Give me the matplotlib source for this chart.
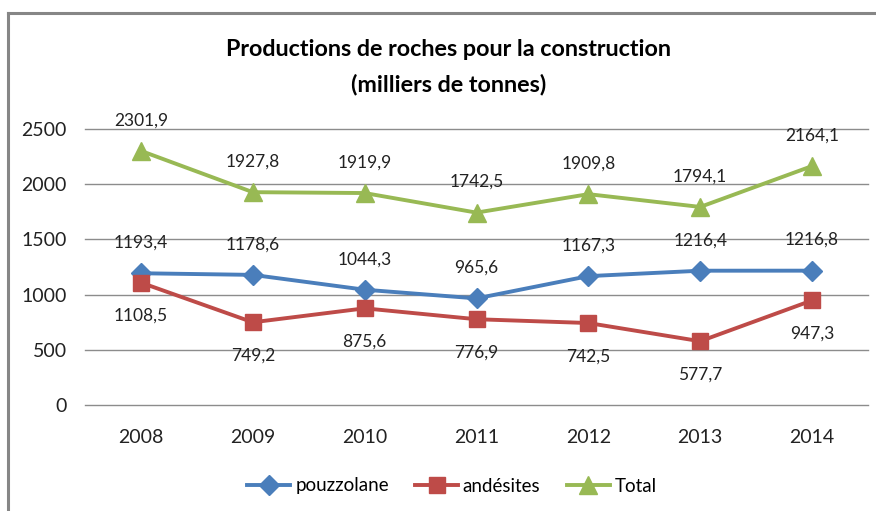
import matplotlib
matplotlib.use('Agg')
import matplotlib.pyplot as plt
from matplotlib.lines import Line2D

plt.rcParams['font.family'] = ['Lato', 'DejaVu Sans']

years = ['2008', '2009', '2010', '2011', '2012', '2013', '2014']
pouzzolane = [1193.4, 1178.6, 1044.3, 965.6, 1167.3, 1216.4, 1216.8]
andesites = [1108.5, 749.2, 875.6, 776.9, 742.5, 577.7, 947.3]
total = [2301.9, 1927.8, 1919.9, 1742.5, 1909.8, 1794.1, 2164.1]
yticks = [0, 500, 1000, 1500, 2000, 2500]

fig = plt.figure(figsize=(8.76, 5.11), dpi=100)
ax = fig.add_axes([85 / 876, 1 - 405 / 511, (868 - 85) / 876, (405 - 129) / 511])

x = list(range(len(years)))
series = [
    ('pouzzolane', pouzzolane, '#4a7ebb', 'D', 10, 22),
    ('andésites', andesites, '#be4b48', 's', 11, -24),
    ('Total', total, '#98b954', '^', 13, 22),
]
for name, vals, col, mk, ms, dy in series:
    ax.plot(x, vals, color=col, lw=2.8, marker=mk, markersize=ms, label=name, zorder=3)
    for xi, v in zip(x, vals):
        ax.annotate(f"{v:.1f}".replace('.', ','), (xi, v), xytext=(0, dy),
                    textcoords='offset points', ha='center', va='center',
                    fontsize=12.5, color='#222222')

ax.set_xlim(-0.5, len(years) - 0.5)
ax.set_ylim(0, 2500)
ax.set_yticks(yticks)
ax.set_xticks(x)
ax.set_xticklabels(years)
ax.yaxis.grid(True, color='#8c8c8c', lw=1)
for gl in ax.get_ygridlines():
    gl.set_clip_on(False)
ax.set_axisbelow(True)
for s in ax.spines.values():
    s.set_visible(False)
ax.tick_params(length=0, labelsize=14, colors='#222222')
ax.tick_params(axis='y', pad=13)
ax.tick_params(axis='x', pad=17)

fig.text(449 / 876, 1 - 67 / 511, 'Productions de roches pour la construction\n(milliers de tonnes)',
         ha='center', va='center', fontsize=16.8, fontweight='bold', linespacing=1.75)

leg = ax.legend(loc='center', bbox_to_anchor=(452 / 876, 1 - 486 / 511),
                bbox_transform=fig.transFigure, ncol=3, frameon=False,
                fontsize=13.5, handlelength=2.3, columnspacing=1.4, handletextpad=0.25)

# frame of the chart area (partly cropped)
fig.add_artist(Line2D([8 / 876, 8 / 876], [0, 1 - 13 / 511], transform=fig.transFigure,
                      color='#868686', lw=2.2))
fig.add_artist(Line2D([8 / 876, 1], [1 - 13 / 511, 1 - 13 / 511], transform=fig.transFigure,
                      color='#868686', lw=2.2))

fig.savefig('out.png', dpi=100)
